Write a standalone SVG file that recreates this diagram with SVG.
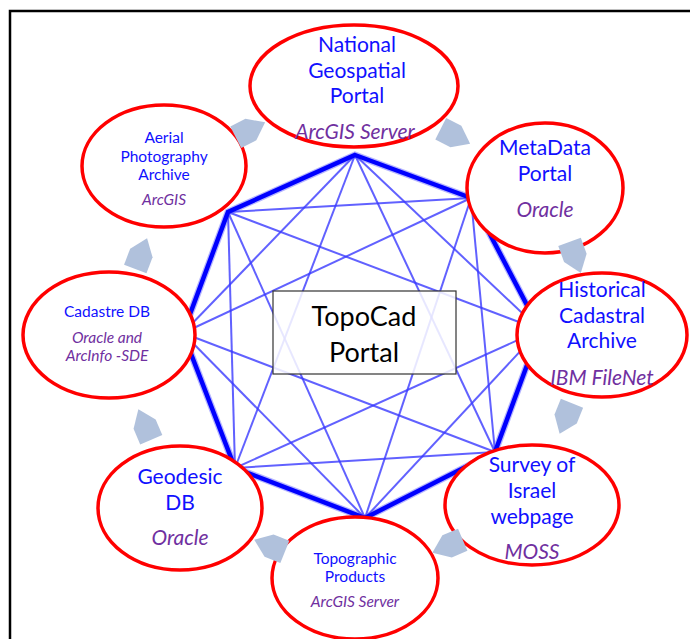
<svg xmlns="http://www.w3.org/2000/svg" width="690" height="639" viewBox="0 0 690 639">
<style>
.bg{fill:#ffffff}
.frame{stroke:#000000;stroke-width:2.5;fill:none}
.thin{stroke:#3a3aff;stroke-width:2;stroke-opacity:0.8;fill:none}
.thickHalo{stroke:#5a5aff;stroke-width:7;stroke-opacity:0.45;fill:none;stroke-linecap:round}
.thick{stroke:#0000ff;stroke-width:4.5;fill:none;stroke-linecap:round}
.node{fill:#ffffff;stroke:#ff0000;stroke-width:3.5}
.arrow{fill:#b0c1dc}
.t{font-family:Lato,"Open Sans","Liberation Sans",sans-serif;fill:#1010ff;text-anchor:middle}
.i{font-family:Lato,"Open Sans","Liberation Sans",sans-serif;fill:#7030a0;font-style:italic;text-anchor:middle}
.big{font-size:21px}
.small{font-size:15.5px}
.box{fill:#ffffff;fill-opacity:0.85;stroke:#333333;stroke-width:1.2}
.center{font-family:Lato,"Open Sans","Liberation Sans",sans-serif;font-size:27px;fill:#000000;text-anchor:middle}
</style>
<defs>
<polygon id="arr" points="-16,-12 1,-12 17,0 1,12 -16,12"/>
</defs>
<rect class="bg" x="0" y="0" width="690" height="639"/>
<path class="frame" d="M10,639 L10,11 L690,11"/>

<g id="connectors">
<line class="thin" x1="355" y1="155" x2="540" y2="330"/>
<line class="thin" x1="471" y1="198" x2="495" y2="452"/>
<line class="thin" x1="540" y1="330" x2="365" y2="518"/>
<line class="thin" x1="495" y1="452" x2="235" y2="468"/>
<line class="thin" x1="365" y1="518" x2="183" y2="333"/>
<line class="thin" x1="235" y1="468" x2="228" y2="212"/>
<line class="thin" x1="183" y1="333" x2="355" y2="155"/>
<line class="thin" x1="228" y1="212" x2="471" y2="198"/>
<line class="thin" x1="355" y1="155" x2="495" y2="452"/>
<line class="thin" x1="471" y1="198" x2="365" y2="518"/>
<line class="thin" x1="540" y1="330" x2="235" y2="468"/>
<line class="thin" x1="495" y1="452" x2="183" y2="333"/>
<line class="thin" x1="365" y1="518" x2="228" y2="212"/>
<line class="thin" x1="235" y1="468" x2="355" y2="155"/>
<line class="thin" x1="183" y1="333" x2="471" y2="198"/>
<line class="thin" x1="228" y1="212" x2="540" y2="330"/>
<polygon class="thickHalo" points="355,155 471,198 540,330 495,452 365,518 235,468 183,333 228,212"/>
<polygon class="thick" points="355,155 471,198 540,330 495,452 365,518 235,468 183,333 228,212"/>
</g>

<g id="national">
<ellipse class="node" cx="354" cy="86" rx="104" ry="61"/>
<text class="t big" x="357" y="52">National</text>
<text class="t big" x="357" y="78">Geospatial</text>
<text class="t big" x="357" y="103">Portal</text>
<text class="i big" x="355" y="139">ArcGIS Server</text>
</g>

<g id="metadata">
<ellipse class="node" cx="545" cy="188" rx="78" ry="65"/>
<text class="t big" x="545" y="155">MetaData</text>
<text class="t big" x="545" y="181">Portal</text>
<text class="i big" x="545" y="217">Oracle</text>
</g>

<g id="historical">
<ellipse class="node" cx="602" cy="335" rx="85" ry="62"/>
<text class="t big" x="602" y="297">Historical</text>
<text class="t big" x="602" y="323">Cadastral</text>
<text class="t big" x="602" y="348">Archive</text>
<text class="i big" x="602" y="385">IBM FileNet</text>
</g>

<g id="survey">
<ellipse class="node" cx="532" cy="505" rx="87" ry="60"/>
<text class="t big" x="532" y="472">Survey of</text>
<text class="t big" x="532" y="498">Israel</text>
<text class="t big" x="532" y="524">webpage</text>
<text class="i big" x="532" y="559">MOSS</text>
</g>

<g id="topographic">
<ellipse class="node" cx="355" cy="578" rx="83" ry="61"/>
<text class="t small" x="355" y="564">Topographic</text>
<text class="t small" x="355" y="582">Products</text>
<text class="i small" x="355" y="607">ArcGIS Server</text>
</g>

<g id="geodesic">
<ellipse class="node" cx="180" cy="508" rx="82" ry="62"/>
<text class="t big" x="180" y="484">Geodesic</text>
<text class="t big" x="180" y="510">DB</text>
<text class="i big" x="180" y="545">Oracle</text>
</g>

<g id="cadastre">
<ellipse class="node" cx="109" cy="335" rx="86" ry="63"/>
<text class="t small" x="107" y="317">Cadastre DB</text>
<text class="i small" x="107" y="343">Oracle and</text>
<text class="i small" x="107" y="361">ArcInfo -SDE</text>
</g>

<g id="aerial">
<ellipse class="node" cx="164" cy="166" rx="82" ry="61"/>
<text class="t small" x="164" y="143">Aerial</text>
<text class="t small" x="164" y="162">Photography</text>
<text class="t small" x="164" y="180">Archive</text>
<text class="i small" x="164" y="205">ArcGIS</text>
</g>

<g id="arrows">
<use href="#arr" class="arrow" transform="translate(250,130) rotate(-27)"/>
<use href="#arr" class="arrow" transform="translate(455,136) rotate(27)"/>
<use href="#arr" class="arrow" transform="translate(575,257) rotate(70)"/>
<use href="#arr" class="arrow" transform="translate(566,418) rotate(112)"/>
<use href="#arr" class="arrow" transform="translate(448,546) rotate(157)"/>
<use href="#arr" class="arrow" transform="translate(270,546) rotate(202)"/>
<use href="#arr" class="arrow" transform="translate(145,425) rotate(247)"/>
<use href="#arr" class="arrow" transform="translate(141,254) rotate(291)"/>
</g>

<g id="topocad">
<rect class="box" x="273" y="291" width="183" height="83"/>
<text class="center" x="364" y="326">TopoCad</text>
<text class="center" x="364" y="362">Portal</text>
</g>
</svg>
